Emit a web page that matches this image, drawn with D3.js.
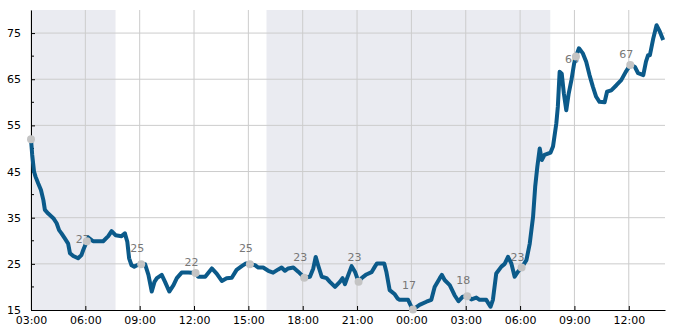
<!DOCTYPE html>
<html>
<head>
<meta charset="utf-8">
<script src="https://cdn.jsdelivr.net/npm/d3@7"></script>
<style>
  html, body { margin: 0; padding: 0; background: #fff; }
  svg { display: block; font-family: "DejaVu Sans", sans-serif; }
</style>
</head>
<body>
<svg id="chart" width="685" height="330"></svg>
<script>
// ---- data ----
const times = [
  "01 03:00","01 03:04","01 03:10","01 03:15","01 03:24","01 03:33","01 03:41","01 03:46","01 03:57","01 04:14",
  "01 04:25","01 04:33","01 04:41","01 04:52","01 05:03","01 05:09","01 05:20","01 05:36","01 05:47","01 05:53",
  "01 06:05","01 06:10","01 06:26","01 06:59","01 07:16","01 07:27","01 07:40","01 08:00","01 08:11","01 08:19",
  "01 08:25","01 08:33","01 08:42","01 08:51","01 09:05","01 09:18","01 09:29","01 09:40","01 09:49","01 09:57",
  "01 10:13","01 10:24","01 10:38","01 10:52","01 11:03","01 11:19","01 11:41","01 12:05","01 12:14","01 12:37",
  "01 12:59","01 13:15","01 13:32","01 13:48","01 14:05","01 14:21","01 14:38","01 14:52","01 15:05","01 15:22",
  "01 15:33","01 15:49","01 16:06","01 16:22","01 16:39","01 16:50","01 17:01","01 17:12","01 17:29","01 17:45",
  "01 18:05","01 18:24","01 18:35","01 18:43","01 18:51","01 19:03","01 19:19","01 19:30","01 19:47","01 20:03",
  "01 20:12","01 20:20","01 20:27","01 20:42","01 20:53","01 21:05","01 21:15","01 21:31","01 21:48","01 21:59",
  "01 22:06","01 22:30","01 22:37","01 22:48","01 23:05","01 23:14","01 23:21","01 23:49","02 00:00","02 00:05",
  "02 00:27","02 00:50","02 01:06","02 01:17","02 01:34","02 01:41","02 01:50","02 02:07","02 02:23","02 02:36",
  "02 02:50","02 03:05","02 03:19","02 03:35","02 03:46","02 04:08","02 04:22","02 04:30","02 04:41","02 04:58",
  "02 05:09","02 05:20","02 05:31","02 05:42","02 05:53","02 06:05","02 06:21","02 06:32","02 06:43","02 06:50",
  "02 06:57","02 07:05","02 07:12","02 07:21","02 07:41","02 07:49","02 08:00","02 08:05","02 08:11","02 08:18",
  "02 08:25","02 08:33","02 08:41","02 08:50","02 08:59","02 09:05","02 09:15","02 09:28","02 09:39","02 09:50",
  "02 10:01","02 10:12","02 10:23","02 10:40","02 10:48","02 11:02","02 11:19","02 11:35","02 11:50","02 12:05",
  "02 12:20","02 12:31","02 12:48","02 12:57","02 13:04","02 13:10","02 13:21","02 13:32","02 13:43","02 13:54"
];
const values = [
  52, 48.6, 45, 43.9, 42.4, 41, 38.8, 36.7, 35.9, 34.9,
  33.8, 32.3, 31.6, 30.5, 29.4, 27.3, 26.7, 26.2, 26.9, 28,
  29.9, 30.7, 29.9, 29.9, 31, 32.1, 31.2, 31, 31.6, 29.8,
  26.2, 24.7, 24.4, 24.7, 24.9, 24.9, 22.6, 19, 21.1, 21.9,
  22.6, 21.1, 19, 20.4, 21.9, 23.1, 23.1, 23, 22.2, 22.2,
  24, 22.9, 21.3, 21.9, 22, 23.7, 24.5, 25.1, 24.9, 24.7,
  24.2, 24.2, 23.5, 23.1, 23.8, 24.2, 23.5, 24, 24.2, 23.3,
  22, 22.2, 24, 26.5, 24.7, 22.2, 21.9, 21.1, 20, 21.1,
  21.9, 20.6, 21.9, 24.5, 23.3, 21.1, 21.9, 22.7, 23.2, 24.4,
  25.1, 25.1, 23.3, 19.3, 18.4, 17.5, 17.2, 17.2, 15.7, 15.1,
  16.1, 16.8, 17.2, 20, 21.9, 22.6, 21.5, 20.4, 18.2, 16.9,
  17.9, 18, 17.3, 17.7, 17.2, 17.2, 15.7, 17.2, 22.9, 24.4,
  25, 26.5, 25.1, 22.2, 23.3, 24.2, 25.8, 29.4, 35.2, 41.7,
  46, 50, 47.5, 48.6, 49.1, 50.4, 55.4, 59, 66.6, 66.2,
  61.9, 58.3, 61.9, 64.8, 68.4, 69.9, 71.7, 70.6, 68.8, 65.9,
  63.4, 61.2, 60.1, 60, 62.3, 62.6, 63.7, 64.8, 66.6, 68.1,
  67.7, 66.3, 65.9, 68.8, 70.2, 70.2, 73.8, 76.7, 75.3, 73.5
];
const markerTimes = ["01 03:00","01 06:05","01 09:05","01 12:05","01 15:05","01 18:05","01 21:05","02 00:05","02 03:05","02 06:05","02 09:05","02 12:05"];
const markerLabels = [null, 27, 25, 22, 25, 23, 23, 17, 18, 23, 66, 67];
const nightBands = [["01 03:00","01 07:40"],["01 16:00","02 07:40"]];
const xDomain = ["01 03:00","02 14:00"];
const yDomain = [15, 80];
const yMajorTicks = [15, 25, 35, 45, 55, 65, 75];
const yMinorTicks = [20, 30, 40, 50, 60, 70];

// ---- chart ----
const parse = d3.timeParse("%d %H:%M");
const data = times.map((t, i) => ({ t: parse(t), v: values[i] }));
const bisect = d3.bisector(d => d.t).left;
function valueAt(date) {
  const i = bisect(data, date);
  if (i <= 0) return data[0].v;
  if (i >= data.length) return data[data.length - 1].v;
  const a = data[i - 1], b = data[i];
  const f = (date - a.t) / (b.t - a.t);
  return a.v + f * (b.v - a.v);
}

const margin = { left: 31, right: 20, top: 10, bottom: 20 };
const W = 685, H = 330;
const svg = d3.select("#chart");
const x = d3.scaleTime().domain(xDomain.map(parse)).range([margin.left, W - margin.right]);
const y = d3.scaleLinear().domain(yDomain).range([H - margin.bottom, margin.top]);

// night bands
svg.append("g").selectAll("rect").data(nightBands).join("rect")
  .attr("x", d => x(parse(d[0])))
  .attr("y", y(yDomain[1]))
  .attr("width", d => x(parse(d[1])) - x(parse(d[0])))
  .attr("height", y(yDomain[0]) - y(yDomain[1]))
  .attr("fill", "#eaebf1");

// grid
const xTicks = x.ticks(d3.timeHour.every(3));
svg.append("g").selectAll("line").data(xTicks).join("line")
  .attr("x1", d => x(d)).attr("x2", d => x(d))
  .attr("y1", y(yDomain[1])).attr("y2", y(yDomain[0]))
  .attr("stroke", "#cccccc").attr("stroke-width", 1);
svg.append("g").selectAll("line").data(yMajorTicks.filter(v => v > yDomain[0])).join("line")
  .attr("x1", x.range()[0]).attr("x2", x.range()[1])
  .attr("y1", d => y(d)).attr("y2", d => y(d))
  .attr("stroke", "#cccccc").attr("stroke-width", 1);

// axes
const xAxis = d3.axisBottom(x).tickValues(xTicks).tickFormat(d3.timeFormat("%H:%M")).tickSizeInner(-4).tickSizeOuter(0).tickPadding(6);
const gx = svg.append("g").attr("transform", `translate(0,${y(yDomain[0])})`).call(xAxis);
gx.selectAll("text").attr("font-size", 11).attr("fill", "#000").attr("font-family", "DejaVu Sans, sans-serif");
gx.select(".domain").attr("stroke", "#000");

const yAxis = d3.axisLeft(y).tickValues(yMajorTicks).tickFormat(d3.format("d")).tickSizeInner(-4).tickSizeOuter(0).tickPadding(10);
const gy = svg.append("g").attr("transform", `translate(${x.range()[0]},0)`).call(yAxis);
gy.selectAll("text").attr("font-size", 11).attr("fill", "#000").attr("font-family", "DejaVu Sans, sans-serif");
gy.select(".domain").attr("stroke", "#000");
svg.append("g").selectAll("line").data(yMinorTicks).join("line")
  .attr("x1", x.range()[0]).attr("x2", x.range()[0] + 3)
  .attr("y1", d => y(d)).attr("y2", d => y(d))
  .attr("stroke", "#000");

// marker labels (under the line)
const markers = markerTimes.map((t, i) => { const d = parse(t); return { t: d, v: valueAt(d), label: markerLabels[i] }; });
svg.append("g").selectAll("text").data(markers.filter(d => d.label !== null)).join("text")
  .attr("x", d => x(d.t) - 4)
  .attr("y", d => y(d.label) - 12)
  .attr("text-anchor", "middle")
  .attr("font-size", 11)
  .attr("fill", "#777777")
  .text(d => d.label);

// line
svg.append("path").datum(data)
  .attr("fill", "none")
  .attr("stroke", "#0b5a8a")
  .attr("stroke-width", 4)
  .attr("stroke-linejoin", "round")
  .attr("d", d3.line().x(d => x(d.t)).y(d => y(d.v)));

// markers
svg.append("g").selectAll("circle").data(markers).join("circle")
  .attr("cx", d => x(d.t))
  .attr("cy", d => y(d.v))
  .attr("r", 4)
  .attr("fill", "#c4c4c4");
</script>
</body>
</html>
